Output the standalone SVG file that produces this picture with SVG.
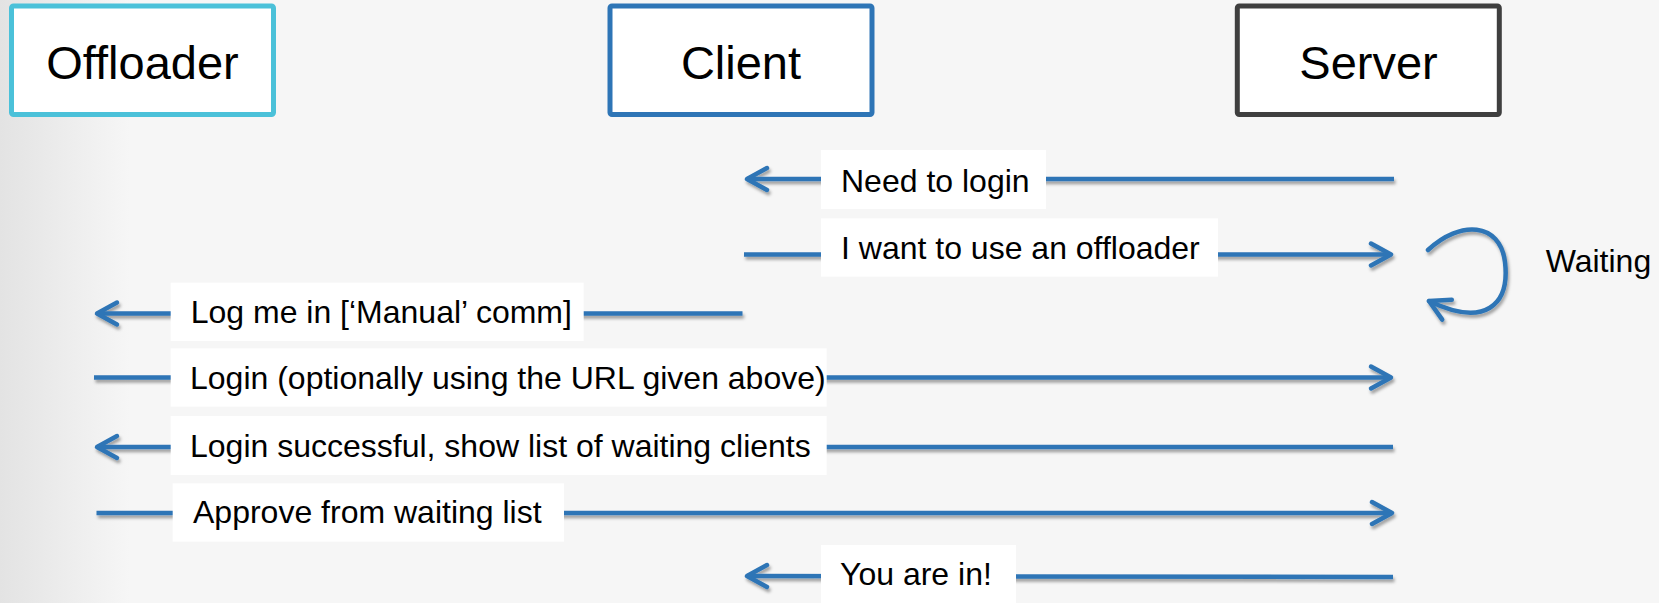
<svg xmlns="http://www.w3.org/2000/svg" width="1659" height="603" viewBox="0 0 1659 603">
  <style>
    .node-box { fill: #FFFFFF; stroke-width: 5; }
    .title { font-family: "Liberation Sans", Arial, sans-serif; font-size: 47px; fill: #000000; text-anchor: middle; }
    .label-box { fill: #FFFFFF; }
    .label { font-family: "Liberation Sans", Arial, sans-serif; font-size: 32px; fill: #000000; }
    .conn { fill: none; stroke: #2E75B6; stroke-width: 4.5; filter: url(#shadow); }
  </style>
  <defs>
    <linearGradient id="bg" gradientUnits="userSpaceOnUse" x1="0" y1="0" x2="130" y2="0">
      <stop offset="0" stop-color="#E3E3E3"/>
      <stop offset="1" stop-color="#F6F6F6"/>
    </linearGradient>
    <filter id="shadow" filterUnits="userSpaceOnUse" x="0" y="0" width="1659" height="603">
      <feDropShadow dx="1.5" dy="3" stdDeviation="1.5" flood-color="#000000" flood-opacity="0.35"/>
    </filter>
    <marker id="arrow" markerUnits="userSpaceOnUse" viewBox="-26 -16 32 32" refX="0" refY="0" markerWidth="32" markerHeight="32" orient="auto-start-reverse">
      <path d="M-20,-11 L0,0 L-20,11" fill="none" stroke="#2E75B6" stroke-width="4.5" stroke-linecap="round" stroke-linejoin="round"/>
    </marker>
  </defs>

  <rect x="0" y="0" width="1659" height="603" fill="url(#bg)"/>

  <g id="node-offloader">
    <rect class="node-box" x="11.5" y="6" width="262" height="108.5" rx="2" stroke="#4BC1D9"/>
    <text class="title" x="142.5" y="78.5">Offloader</text>
  </g>
  <g id="node-client">
    <rect class="node-box" x="610" y="6" width="262" height="108.5" rx="2" stroke="#2E75B6"/>
    <text class="title" x="741" y="78.5">Client</text>
  </g>
  <g id="node-server">
    <rect class="node-box" x="1237.3" y="6" width="262" height="108.5" rx="2" stroke="#3F3F3F"/>
    <text class="title" x="1368.5" y="78.5">Server</text>
  </g>

  <g id="connectors">
    <path class="conn" d="M747,179 H1394" marker-start="url(#arrow)"/>
    <path class="conn" d="M744,254.5 H1391" marker-end="url(#arrow)"/>
    <path class="conn" d="M97,313.5 H742.5" marker-start="url(#arrow)"/>
    <path class="conn" d="M94,377.5 H1391" marker-end="url(#arrow)"/>
    <path class="conn" d="M97,447 H1393" marker-start="url(#arrow)"/>
    <path class="conn" d="M96.5,513 H1392" marker-end="url(#arrow)"/>
    <path class="conn" d="M747,576 L1393,577" marker-start="url(#arrow)"/>
    <path class="conn" d="M1428,250 C1460,220 1500,222 1505,262 C1510,305 1485,328 1429,301" stroke-linecap="round" marker-end="url(#arrow)"/>
  </g>

  <g id="labels">
    <g id="label-need-login">
      <rect class="label-box" x="821" y="150" width="225" height="59"/>
      <text class="label" x="841" y="191.7">Need to login</text>
    </g>
    <g id="label-want-offloader">
      <rect class="label-box" x="821" y="218.3" width="397" height="58.4"/>
      <text class="label" x="841" y="259">I want to use an offloader</text>
    </g>
    <g id="label-log-me-in">
      <rect class="label-box" x="170.7" y="282.7" width="413" height="58.3"/>
      <text class="label" x="190.7" y="323.3">Log me in [&#8216;Manual&#8217; comm]</text>
    </g>
    <g id="label-login">
      <rect class="label-box" x="170.7" y="348.3" width="656" height="58.4"/>
      <text class="label" x="190" y="389.3">Login (optionally using the URL given above)</text>
    </g>
    <g id="label-login-successful">
      <rect class="label-box" x="170.7" y="416" width="656" height="59"/>
      <text class="label" x="190" y="456.7">Login successful, show list of waiting clients</text>
    </g>
    <g id="label-approve">
      <rect class="label-box" x="172.7" y="483.3" width="391.3" height="58.4"/>
      <text class="label" x="193" y="523.3">Approve from waiting list</text>
    </g>
    <g id="label-you-are-in">
      <rect class="label-box" x="821" y="545" width="195" height="58"/>
      <text class="label" x="840" y="585">You are in!</text>
    </g>
    <text id="label-waiting" class="label" x="1545.7" y="271.7">Waiting</text>
  </g>
</svg>
